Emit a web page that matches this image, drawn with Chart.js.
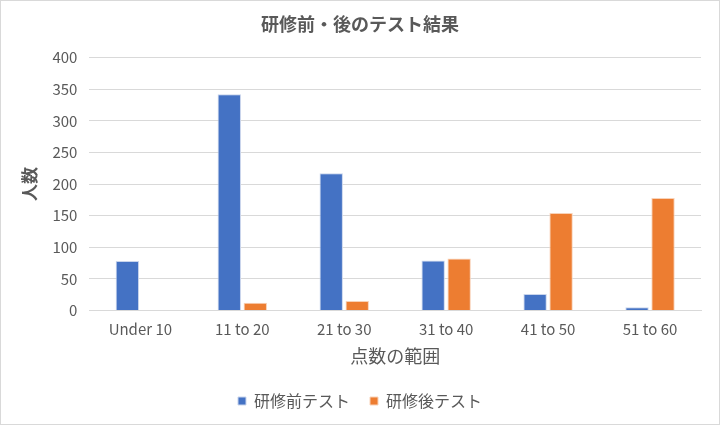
<!DOCTYPE html>
<html>
<head>
<meta charset="utf-8">
<script src="https://cdn.jsdelivr.net/npm/chart.js@4"></script>
<style>
  html, body { margin: 0; padding: 0; background: #fff; }
  #wrap { width: 718px; height: 423px; border: 1px solid #d9d9d9; position: relative; }
</style>
</head>
<body>
<div id="wrap"><canvas id="chart"></canvas></div>
<script>
const categories = ['Under 10', '11 to 20', '21 to 30', '31 to 40', '41 to 50', '51 to 60'];
const beforeValues = [78, 342, 217, 79, 26, 5];
const afterValues = [0, 12, 15, 82, 154, 178];
const seriesNames = ['研修前テスト', '研修後テスト'];

const font = '"Noto Sans CJK JP", "Noto Sans", sans-serif';
const grey = '#595959';

const ctx = document.getElementById('chart').getContext('2d');
const chart = new Chart(ctx, {
    type: 'bar',
    data: {
        labels: categories,
        datasets: [
            {
                label: seriesNames[0],
                data: beforeValues,
                backgroundColor: '#4472C4',
                borderColor: '#c9d5ec',
                borderWidth: 1,
                categoryPercentage: 0.51,
                barPercentage: 0.9
            },
            {
                label: seriesNames[1],
                data: afterValues,
                backgroundColor: '#ED7D31',
                borderColor: '#f8d2b8',
                borderWidth: 1,
                categoryPercentage: 0.51,
                barPercentage: 0.9
            }
        ]
    },
    options: {
        responsive: true,
        maintainAspectRatio: false,
        animation: false,
        layout: { padding: { left: 18, right: 18, top: 4, bottom: 5 } },
        plugins: {
            title: {
                display: true,
                text: '研修前・後のテスト結果',
                color: grey,
                font: { family: font, size: 18, weight: 'bold' },
                padding: { top: 8, bottom: 23 }
            },
            legend: {
                position: 'bottom',
                labels: {
                    color: grey,
                    font: { family: font, size: 16 },
                    boxWidth: 8,
                    boxHeight: 8,
                    padding: 20
                }
            },
            tooltip: { enabled: false }
        },
        scales: {
            x: {
                grid: { display: false },
                border: { color: '#d9d9d9' },
                ticks: { color: grey, font: { family: font, size: 15 }, padding: 2 },
                title: {
                    display: true,
                    text: '点数の範囲',
                    color: grey,
                    font: { family: font, size: 18 },
                    padding: { top: 5, bottom: 6 }
                }
            },
            y: {
                min: 0,
                max: 400,
                grid: { color: '#d9d9d9', drawTicks: false },
                border: { display: false },
                ticks: { stepSize: 50, color: grey, font: { family: font, size: 15 }, padding: 12 },
                title: {
                    display: true,
                    text: '人数',
                    color: grey,
                    font: { family: font, size: 17, weight: 'bold' },
                    padding: { top: 0, bottom: 1 }
                }
            }
        }
    }
});
</script>
</body>
</html>
